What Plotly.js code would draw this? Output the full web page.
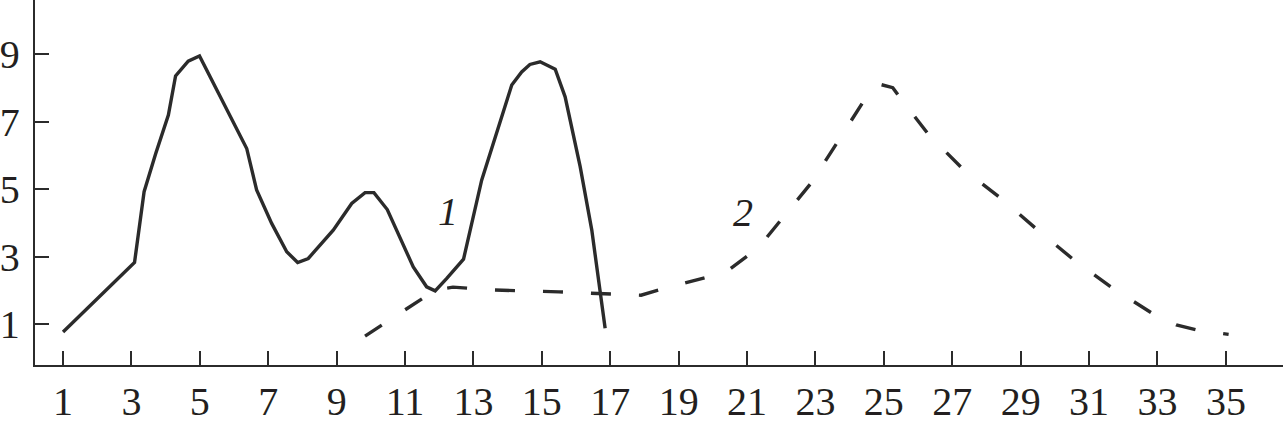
<!DOCTYPE html>
<html>
<head>
<meta charset="utf-8">
<script src="https://cdn.plot.ly/plotly-3.0.1.min.js"></script>
<style>html,body{margin:0;padding:0;background:#fff;}#chart{width:1283px;height:426px;}</style>
</head>
<body>
<div id="chart"></div>
<script>
var curve1X = [1, 3.09, 3.37, 3.71, 4.08, 4.29, 4.66, 4.99, 6.37, 6.66, 7.1, 7.54, 7.86, 8.17, 8.9, 9.44, 9.83, 10.09, 10.48, 10.8, 11.24, 11.63, 11.88, 12.22, 12.71, 13.24, 13.73, 14.12, 14.41, 14.65, 14.95, 15.39, 15.68, 16.12, 16.46, 16.7, 16.85];
var curve1Y = [0.77, 2.83, 4.93, 6.06, 7.2, 8.36, 8.8, 8.95, 6.21, 4.98, 3.99, 3.15, 2.83, 2.95, 3.79, 4.58, 4.9, 4.9, 4.4, 3.69, 2.7, 2.11, 1.99, 2.36, 2.93, 5.27, 6.85, 8.09, 8.48, 8.7, 8.78, 8.56, 7.74, 5.67, 3.79, 2.01, 0.88];
var curve2X = [9.83, 11.88, 12.4, 13.5, 15.5, 17.9, 18.4, 19.8, 20.5, 21.0, 21.5, 22.9, 24.4, 24.89, 25.26, 25.44, 26.3, 27.3, 28.4, 29.5, 30.6, 31.7, 32.9, 33.55, 34.15, 35.08];
var curve2Y = [0.65, 2.01, 2.1, 2.02, 1.96, 1.86, 2.01, 2.39, 2.64, 3.02, 3.48, 5.22, 7.6, 8.11, 8.01, 7.76, 6.63, 5.61, 4.75, 3.79, 2.87, 2.06, 1.29, 0.98, 0.83, 0.7];
var xTicks = [1, 3, 5, 7, 9, 11, 13, 15, 17, 19, 21, 23, 25, 27, 29, 31, 33, 35];
var yTicks = [1, 3, 5, 7, 9];
var curveLabels = ['1', '2'];
var labelPosX = [12.26, 20.88];
var labelPosY = [4.33, 4.3];

var ink = '#2b2b2b';
var txt = '#231f20';
var fam = 'Liberation Serif, Times New Roman, serif';
var traces = [
  {x: curve1X, y: curve1Y, mode: 'lines', line: {color: ink, width: 3.4}, hoverinfo: 'none'},
  {x: curve2X, y: curve2Y, mode: 'lines', line: {color: ink, width: 3.4, dash: '20px,28px'}, hoverinfo: 'none'}
];
var annotations = curveLabels.map(function(t, i){
  return {x: labelPosX[i], y: labelPosY[i], text: '<i>' + t + '</i>', showarrow: false,
    font: {family: fam, size: 40, color: txt}, xanchor: 'center', yanchor: 'middle'};
});
var layout = {
  width: 1283, height: 426,
  margin: {l: 35, r: 0, t: 0, b: 61},
  paper_bgcolor: '#fff', plot_bgcolor: '#fff',
  showlegend: false,
  font: {family: fam, size: 40, color: txt},
  xaxis: {range: [0.18, 36.67], tickvals: xTicks, ticktext: xTicks.map(String),
    ticks: 'inside', ticklen: 14, tickwidth: 2, tickcolor: ink,
    showline: true, linecolor: ink, linewidth: 2.3, showgrid: false, zeroline: false,
    tickfont: {family: fam, size: 40, color: txt}},
  yaxis: {range: [-0.207, 10.61], tickvals: yTicks, ticktext: yTicks.map(String),
    ticks: 'inside', ticklen: 14, tickwidth: 2, tickcolor: ink, ticklabelstandoff: 5,
    showline: true, linecolor: ink, linewidth: 2.3, showgrid: false, zeroline: false,
    tickfont: {family: fam, size: 40, color: txt}},
  annotations: annotations
};
Plotly.newPlot('chart', traces, layout, {staticPlot: true, displayModeBar: false});
</script>
</body>
</html>
